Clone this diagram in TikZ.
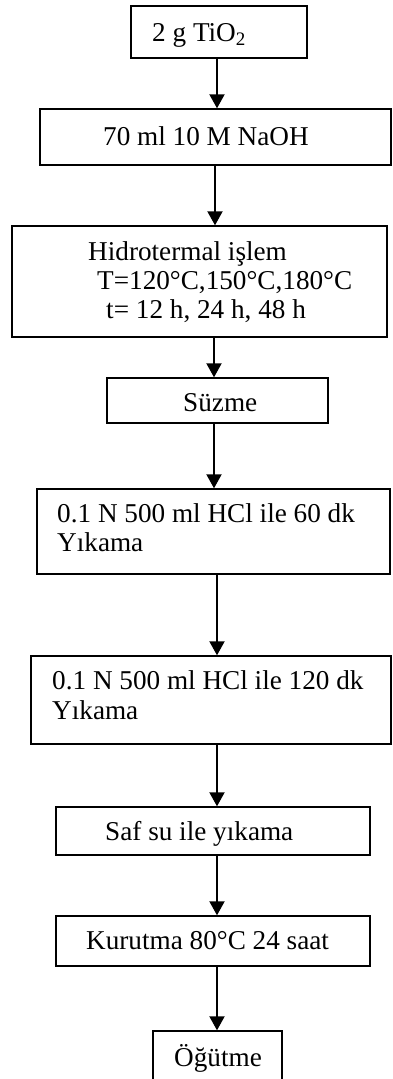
\documentclass[tikz,border=0pt]{standalone}
\usepackage{fontspec}
\setmainfont{Liberation Serif}
\usetikzlibrary{arrows.meta}
\tikzset{
  box/.style={draw=black, line width=1.4pt, rectangle, inner sep=0pt, fill=none},
  txt/.style={inner sep=0pt, anchor=base west, font=\fontsize{27.2}{29}\selectfont},
  arr/.style={line width=2pt, -{Triangle[width=15pt,length=14pt]}}
}
\newcommand\bx[5]{\node[box,minimum width={#4-#2},minimum height={#5-#3}] (#1) at ({(#2+#4)/2},{(#3+#5)/2}) {};}
\begin{document}
\begin{tikzpicture}[x=1pt,y=-1pt]
\useasboundingbox (0,0) rectangle (392,1079);
\clip (0,0) rectangle (392,1079);
\bx{b1}{131}{6}{307}{58}
\bx{b2}{40}{109}{391}{165}
\bx{b3}{12}{226}{387}{337}
\bx{b4}{107}{378}{328}{423}
\bx{b5}{37}{489}{390}{574}
\bx{b6}{31}{656}{391}{744}
\bx{b7}{56}{807}{370}{855}
\bx{b8}{56}{916}{370}{966}
\bx{b9}{153}{1031}{282}{1100}
\node[txt] (t1) at (152,41) {2 g TiO\textsubscript{2}};
\node[txt] (t2) at (103,145) {70 ml 10 M NaOH};
\node[txt] (t3a) at (88,260) {Hidrotermal işlem};
\node[txt] (t3b) at (97,289) {T=120°C,150°C,180°C};
\node[txt] (t3c) at (106,318) {t= 12 h, 24 h, 48 h};
\node[txt] (t4) at (183,411) {Süzme};
\node[txt] (t5a) at (57,522) {0.1 N 500 ml HCl ile 60 dk};
\node[txt] (t5b) at (57,551) {Yıkama};
\node[txt] (t6a) at (52,689) {0.1 N 500 ml HCl ile 120 dk};
\node[txt] (t6b) at (52,719) {Yıkama};
\node[txt] (t7) at (105,840) {Saf su ile yıkama};
\node[txt] (t8) at (86,949) {Kurutma 80°C 24 saat};
\node[txt] (t9) at (174,1066) {Öğütme};
\coordinate (xa) at (217,0);
\coordinate (xb) at (215,0);
\coordinate (xc) at (214,0);
\draw[arr] (b1.south -| xa) -- (b2.north -| xa);
\draw[arr] (b2.south -| xb) -- (b3.north -| xb);
\draw[arr] (b3.south -| xc) -- (b4.north -| xc);
\draw[arr] (b4.south -| xc) -- (b5.north -| xc);
\draw[arr] (b5.south -| xa) -- (b6.north -| xa);
\draw[arr] (b6.south -| xa) -- (b7.north -| xa);
\draw[arr] (b7.south -| xa) -- (b8.north -| xa);
\draw[arr] (b8.south -| xa) -- (b9.north -| xa);
\end{tikzpicture}
\end{document}
